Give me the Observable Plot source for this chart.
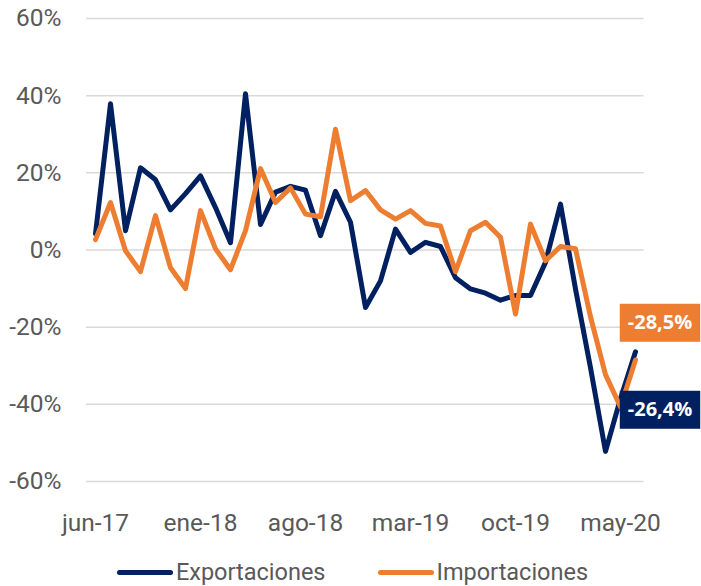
<!DOCTYPE html>
<html>
<head>
<meta charset="utf-8">
<script src="https://cdn.jsdelivr.net/npm/d3@7"></script>
<script src="https://cdn.jsdelivr.net/npm/@observablehq/plot@0.6"></script>
<style>
  html, body { margin: 0; padding: 0; background: #fff; }
  #chart svg { display: block; }
  #legend { display: flex; justify-content: center; align-items: center; gap: 52px;
    font-family: Roboto, sans-serif; font-size: 23.5px; color: #595959;
    height: 30px; margin-top: 9px; padding-left: 4px; }
  .item { display: flex; align-items: center; }
  .sw { display: inline-block; width: 56px; height: 5px; border-radius: 2.5px; margin-right: 3px; }
</style>
</head>
<body>
<div id="chart"></div>
<div id="legend"></div>
<script>
const months = ["jun-17","jul-17","ago-17","sep-17","oct-17","nov-17","dic-17",
  "ene-18","feb-18","mar-18","abr-18","may-18","jun-18","jul-18","ago-18","sep-18","oct-18","nov-18","dic-18",
  "ene-19","feb-19","mar-19","abr-19","may-19","jun-19","jul-19","ago-19","sep-19","oct-19","nov-19","dic-19",
  "ene-20","feb-20","mar-20","abr-20","may-20","jun-20"];
const xTicks = ["jun-17","ene-18","ago-18","mar-19","oct-19","may-20"];
const yTicks = [-60, -40, -20, 0, 20, 40, 60];
const series = ["Exportaciones", "Importaciones"];
const colors = ["#002060", "#ED7D31"];
const exportaciones = [4.2, 37.9, 5.0, 21.3, 18.2, 10.4, 14.6, 19.2, 11.0, 1.9, 40.5, 6.6, 15.0,
  16.5, 15.5, 3.7, 15.2, 7.2, -14.9, -8.0, 5.4, -0.6, 2.0, 0.9, -7.2, -10.1, -11.2, -13.0,
  -11.8, -11.8, -3.2, 11.9, -10.1, -30.5, -52.2, -38.5, -26.4];
const importaciones = [2.7, 12.3, -0.2, -5.6, 8.9, -4.6, -10.0, 10.2, 0.3, -5.1, 5.0, 21.1, 12.3,
  16.1, 9.3, 8.6, 31.3, 12.8, 15.4, 10.4, 8.0, 10.2, 6.9, 6.2, -5.6, 5.0, 7.2, 3.3,
  -16.6, 6.7, -2.8, 0.9, 0.3, -17.3, -32.3, -40.7, -28.5];

const values = [exportaciones, importaciones];
const data = [];
series.forEach((s, k) => values[k].forEach((v, i) => data.push({series: s, month: months[i], value: v})));
const last = months.length - 1;
const endData = series.map((s, k) => ({series: s, month: months[last], value: values[k][last]}));
const fmt = v => v.toFixed(1).replace(".", ",") + "%";

const chart = Plot.plot({
  width: 701, height: 548,
  marginLeft: 86, marginRight: 57.4, marginTop: 18, marginBottom: 67,
  style: {fontFamily: "Roboto, sans-serif", fontSize: "24px", color: "#595959", background: "#fff"},
  x: {type: "point", domain: months, padding: 0.5, label: null},
  y: {domain: [-60, 60], label: null},
  color: {domain: series, range: colors},
  marks: [
    Plot.gridY(yTicks, {stroke: "#d9d9d9", strokeOpacity: 1, strokeWidth: 1.5}),
    Plot.axisY(yTicks, {tickSize: 0, tickPadding: 25, tickFormat: d => d + "%", label: null, fontSize: 24.5}),
    Plot.axisX(xTicks, {tickSize: 0, tickPadding: 32, label: null, fontSize: 24.5}),
    Plot.line(data, {x: "month", y: "value", z: "series", stroke: "series", strokeWidth: 5,
      strokeLinejoin: "round", strokeLinecap: "round"}),
    Plot.text(endData.filter(d => d.series === series[0]), {x: "month", y: "value", text: d => fmt(d.value),
      dx: 24.5, dy: 57.6, fill: "white", fontWeight: "bold", fontSize: 20, fontFamily: "Open Sans",
      textAnchor: "middle", lineAnchor: "middle"}),
    Plot.text(endData.filter(d => d.series === series[1]), {x: "month", y: "value", text: d => fmt(d.value),
      dx: 24.5, dy: -37.5, fill: "white", fontWeight: "bold", fontSize: 20, fontFamily: "Open Sans",
      textAnchor: "middle", lineAnchor: "middle"})
  ]
});
document.getElementById("chart").appendChild(chart);

// background boxes behind end labels
const groups = chart.querySelectorAll('g[aria-label="text"]');
groups.forEach((g, k) => {
  g.querySelectorAll("text").forEach(t => {
    const b = t.getBBox();
    const cx = b.x + b.width / 2, cy = b.y + b.height / 2 + 1.4;
    const w = b.width + 16, h = 38;
    const r = document.createElementNS("http://www.w3.org/2000/svg", "rect");
    r.setAttribute("x", cx - w / 2); r.setAttribute("y", cy - h / 2);
    r.setAttribute("width", w); r.setAttribute("height", h);
    r.setAttribute("fill", colors[k]);
    if (t.getAttribute("transform")) r.setAttribute("transform", t.getAttribute("transform"));
    t.parentNode.insertBefore(r, t);
  });
});

const legend = document.getElementById("legend");
series.forEach((s, k) => {
  const it = document.createElement("div"); it.className = "item";
  const sw = document.createElement("span"); sw.className = "sw"; sw.style.background = colors[k];
  const tx = document.createElement("span"); tx.textContent = s;
  it.appendChild(sw); it.appendChild(tx); legend.appendChild(it);
});
</script>
</body>
</html>
